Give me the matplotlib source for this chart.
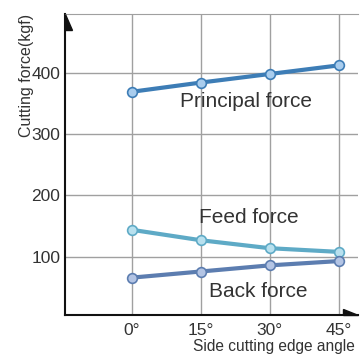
import matplotlib
matplotlib.use("Agg")
import matplotlib.pyplot as plt
from matplotlib.patches import Polygon

plt.rcParams["font.family"] = ["Liberation Sans Narrow", "Liberation Sans", "DejaVu Sans"]

angles = [0, 15, 30, 45]
angle_labels = ["0°", "15°", "30°", "45°"]
principal = [369, 384, 398, 412]
feed = [144, 127, 114, 108]
back = [66, 76, 86, 93]
y_ticks = [100, 200, 300, 400]

GRID = "#a0a0a0"
TXT = "#333333"

fig = plt.figure(figsize=(3.63, 3.56), dpi=100)
ax = fig.add_axes([0.178, 0.115, 0.808, 0.846])

series = [
    (principal, "#3d7db6", "#a9cdee"),
    (feed, "#5eaac6", "#b8e0ee"),
    (back, "#5c7db0", "#b3c4e4"),
]
for vals, col, face in series:
    ax.plot(angles, vals, color=col, lw=3, zorder=3, solid_capstyle="round")
    ax.plot(angles, vals, "o", ms=7, mfc=face, mec=col, mew=1.2, zorder=4)

ax.set_xlim(-14.6, 49.2)
ax.set_ylim(5, 496)
ax.set_xticks(angles)
ax.set_xticklabels(angle_labels)
ax.set_yticks(y_ticks)
ax.tick_params(length=0, labelsize=12.5, colors=TXT)
ax.tick_params(axis="y", pad=3)
ax.tick_params(axis="x", pad=6)
ax.grid(color=GRID, lw=1, zorder=0)

ax.spines["right"].set_visible(False)
ax.spines["top"].set_color(GRID)
for s in ["left", "bottom"]:
    ax.spines[s].set_color("#111111")
    ax.spines[s].set_linewidth(1.5)

# half arrows on the axes
ax.add_patch(Polygon([(0, 1), (0, 1 - 16 / 301), (7 / 292, 1 - 16 / 301)],
                     closed=True, transform=ax.transAxes, color="#111111",
                     clip_on=False, zorder=5))
ax.add_patch(Polygon([(1, 0), (1 - 15 / 292, 0), (1 - 15 / 292, 6 / 301)],
                     closed=True, transform=ax.transAxes, color="#111111",
                     clip_on=False, zorder=5))

ax.text(10.5, 353, "Principal force", fontsize=15, color=TXT, va="center")
ax.text(14.6, 164, "Feed force", fontsize=15, color=TXT, va="center")
ax.text(16.8, 43, "Back force", fontsize=15, color=TXT, va="center")

ax.set_ylabel("Cutting force(kgf)", fontsize=11.5, color=TXT)
ax.yaxis.set_label_coords(-0.105, 0.795)
ax.set_xlabel("Side cutting edge angle", fontsize=11.2, color=TXT, va="center")
ax.xaxis.set_label_coords(0.99, -0.106)
ax.xaxis.label.set_ha("right")

fig.savefig("out.png", dpi=100)
